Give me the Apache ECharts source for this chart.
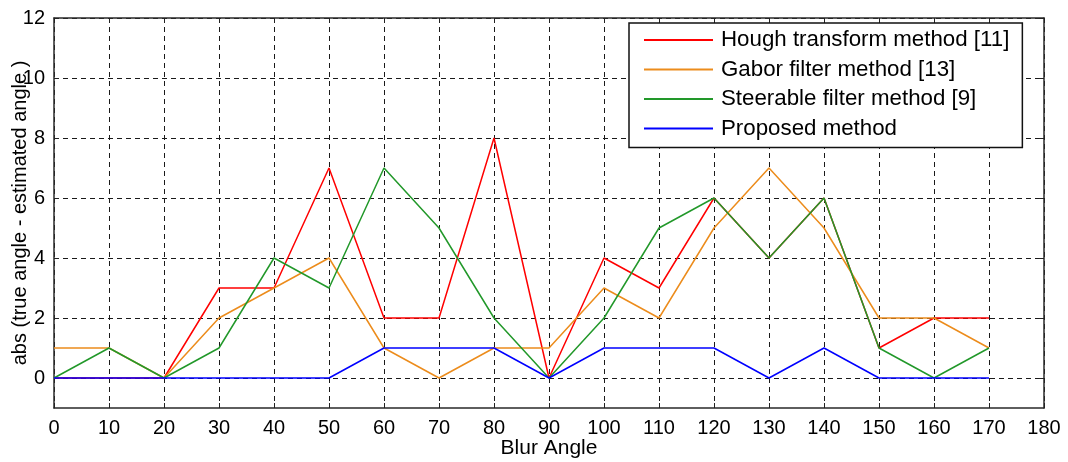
<!DOCTYPE html>
<html>
<head>
<meta charset="utf-8">
<script src="https://cdn.jsdelivr.net/npm/echarts@6/dist/echarts.min.js"></script>
<style>
  html, body {margin: 0; padding: 0; background: #fff;}
  #main {width: 1068px; height: 462px;}
</style>
</head>
<body>
<div id="main"></div>
<script>
// blur angles (x)
const angles = [0, 10, 20, 30, 40, 50, 60, 70, 80, 90, 100, 110, 120, 130, 140, 150, 160, 170];

// abs(true angle - estimated angle) for each method
const hough     = [0, 0, 0, 3, 3, 7, 2, 2, 8, 0, 4, 3, 6, 4, 6, 1, 2, 2];
const gabor     = [1, 1, 0, 2, 3, 4, 1, 0, 1, 1, 3, 2, 5, 7, 5, 2, 2, 1];
const steerable = [0, 1, 0, 1, 4, 3, 7, 5, 2, 0, 2, 5, 6, 4, 6, 1, 0, 1];
const proposed  = [0, 0, 0, 0, 0, 0, 1, 1, 1, 0, 1, 1, 1, 0, 1, 0, 0, 0];

const seriesNames = ['Hough transform method [11]', 'Gabor filter method [13]', 'Steerable filter method [9]', 'Proposed method'];
const seriesColors = ['#ff0000', '#ec8c1c', '#22982a', '#0000ff'];
const yTicks = [0, 2, 4, 6, 8, 10, 12];

const font = 'Liberation Sans, Arial, sans-serif';

function pairs(ys) {
  return angles.map((x, i) => [x, ys[i]]);
}

const chart = echarts.init(document.getElementById('main'));

const dashed = {show: true, lineStyle: {color: '#1a1a1a', type: [5, 4], width: 1}};
const tickIn = {show: true, inside: true, length: 5, lineStyle: {color: '#222', width: 1}};
const boxLine = {show: true, onZero: false, lineStyle: {color: '#2a2a2a', width: 1.5}};

let option = {
  animation: false,
  backgroundColor: '#fff',
  grid: {left: 54, right: 24, top: 18, bottom: 54, containLabel: false, outerBoundsMode: 'none'},
  legend: {
    orient: 'vertical',
    left: 629,
    top: 23,
    padding: [6, 13, 8, 14],
    itemGap: 7.5,
    itemWidth: 69,
    itemHeight: 2,
    itemStyle: {opacity: 0},
    backgroundColor: '#fff',
    borderColor: '#111',
    borderWidth: 1.5,
    textStyle: {fontFamily: font, fontSize: 22.3, color: '#000', lineHeight: 22, padding: [0, 0, 0, 3]},
    data: seriesNames
  },
  xAxis: [
    {
      type: 'value', min: 0, max: 180, interval: 10,
      name: 'Blur Angle', nameLocation: 'middle', nameGap: 30, nameMoveOverlap: false,
      nameTextStyle: {fontFamily: font, fontSize: 21, color: '#000'},
      axisLine: boxLine,
      axisTick: tickIn,
      axisLabel: {fontFamily: font, fontSize: 20, color: '#000', margin: 10},
      splitLine: dashed
    },
    {
      type: 'value', min: 0, max: 180, interval: 10, position: 'top',
      axisLine: boxLine,
      axisTick: tickIn,
      axisLabel: {show: false},
      splitLine: {show: false}
    }
  ],
  yAxis: [
    {
      type: 'value', min: -1, max: 12,
      name: 'abs (true angle - estimated angle )', nameLocation: 'middle', nameGap: 24, nameMoveOverlap: false,
      nameTextStyle: {fontFamily: font, fontSize: 20, color: '#000'},
      axisLine: boxLine,
      axisTick: Object.assign({customValues: yTicks}, tickIn),
      axisLabel: {fontFamily: font, fontSize: 20, color: '#000', margin: 9, customValues: yTicks},
      splitLine: dashed
    },
    {
      type: 'value', min: -1, max: 12, position: 'right',
      axisLine: boxLine,
      axisTick: Object.assign({customValues: yTicks}, tickIn),
      axisLabel: {show: false},
      splitLine: {show: false}
    }
  ],
  series: [hough, gabor, steerable, proposed].map((ys, i) => ({
    name: seriesNames[i],
    type: 'line',
    data: pairs(ys),
    symbol: 'none',
    xAxisIndex: 0,
    yAxisIndex: 0,
    lineStyle: {color: seriesColors[i], width: 1.5},
    itemStyle: {color: seriesColors[i]},
    emphasis: {disabled: true},
    z: 3 + i
  }))
};

chart.setOption(option);
</script>
</body>
</html>
